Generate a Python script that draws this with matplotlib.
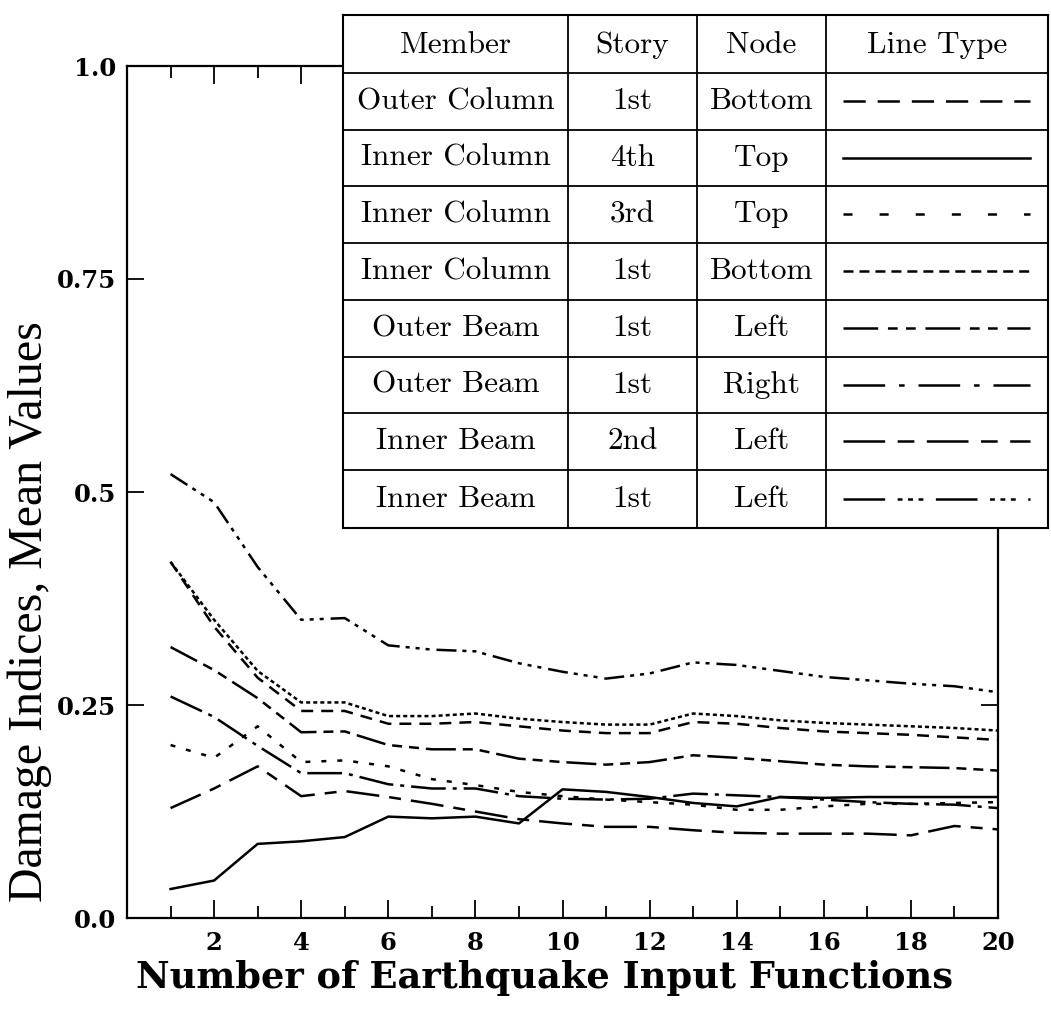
import matplotlib
matplotlib.use("Agg")
import matplotlib.pyplot as plt

# ---------------- data ----------------
n_inputs = list(range(1, 21))

outer_col_1st_bottom = [0.418, 0.342, 0.282, 0.243, 0.243, 0.228, 0.228, 0.230, 0.225, 0.220,
                        0.217, 0.217, 0.230, 0.228, 0.223, 0.219, 0.217, 0.215, 0.212, 0.209]
inner_col_4th_top = [0.034, 0.044, 0.087, 0.090, 0.095, 0.119, 0.117, 0.119, 0.111, 0.151,
                     0.148, 0.142, 0.135, 0.131, 0.142, 0.141, 0.142, 0.142, 0.142, 0.142]
inner_col_3rd_top = [0.203, 0.188, 0.225, 0.183, 0.185, 0.178, 0.163, 0.156, 0.148, 0.143,
                     0.139, 0.136, 0.133, 0.127, 0.127, 0.131, 0.134, 0.134, 0.135, 0.136]
inner_col_1st_bottom = [0.418, 0.350, 0.290, 0.253, 0.253, 0.237, 0.237, 0.240, 0.234, 0.230,
                        0.227, 0.227, 0.240, 0.237, 0.232, 0.229, 0.227, 0.225, 0.223, 0.220]
outer_beam_1st_left = [0.318, 0.291, 0.258, 0.218, 0.219, 0.203, 0.198, 0.198, 0.187, 0.183,
                       0.180, 0.183, 0.191, 0.188, 0.184, 0.180, 0.178, 0.177, 0.176, 0.173]
outer_beam_1st_right = [0.260, 0.236, 0.202, 0.170, 0.170, 0.157, 0.152, 0.152, 0.143, 0.140,
                        0.139, 0.140, 0.146, 0.144, 0.142, 0.139, 0.136, 0.134, 0.133, 0.129]
inner_beam_2nd_left = [0.129, 0.152, 0.178, 0.143, 0.149, 0.142, 0.134, 0.125, 0.116, 0.111,
                       0.107, 0.107, 0.103, 0.100, 0.099, 0.099, 0.099, 0.097, 0.108, 0.104]
inner_beam_1st_left = [0.521, 0.488, 0.412, 0.350, 0.352, 0.320, 0.315, 0.313, 0.299, 0.289,
                       0.281, 0.287, 0.300, 0.297, 0.290, 0.283, 0.279, 0.275, 0.272, 0.265]

members = ["Outer Column", "Inner Column", "Inner Column", "Inner Column",
           "Outer Beam", "Outer Beam", "Inner Beam", "Inner Beam"]
stories = ["1st", "4th", "3rd", "1st", "1st", "1st", "2nd", "1st"]
nodes = ["Bottom", "Top", "Top", "Bottom", "Left", "Right", "Left", "Left"]
headers = ["Member", "Story", "Node", "Line Type"]

x_ticks = [2, 4, 6, 8, 10, 12, 14, 16, 18, 20]
x_tick_labels = ["2", "4", "6", "8", "10", "12", "14", "16", "18", "20"]
x_minor_ticks = [1, 3, 5, 7, 9, 11, 13, 15, 17, 19]
y_ticks = [0.0, 0.25, 0.5, 0.75, 1.0]
y_tick_labels = ["0.0", "0.25", "0.5", "0.75", "1.0"]

x_label = "Number of Earthquake Input Functions"
y_label = "Damage Indices, Mean Values"

series = [outer_col_1st_bottom, inner_col_4th_top, inner_col_3rd_top, inner_col_1st_bottom,
          outer_beam_1st_left, outer_beam_1st_right, inner_beam_2nd_left, inner_beam_1st_left]

# ---------------- styles ----------------
plot_dashes = [
    (8.6, 5.8),
    None,
    (3.6, 7.9),
    (2.9, 2.2),
    (21.6, 5.0, 7.2, 5.0, 7.2, 5.0),
    (25.0, 5.0, 2.9, 5.0),
    (23.8, 7.2, 8.6, 7.2),
    (14.4, 4.3, 2.9, 4.3, 2.9, 4.3, 2.9, 5.0),
]
legend_dashes = [
    (16.0, 8.6),
    None,
    (6.5, 19.5),
    (7.2, 4.3),
    (25.0, 7.0, 7.0, 6.0, 7.0, 7.0),
    (30.0, 10.0, 4.0, 10.0),
    (30.0, 9.0, 12.0, 9.0),
    (30.0, 9.0, 3.5, 4.0, 3.5, 4.0, 3.5, 9.0),
]

plt.rcParams['lines.scale_dashes'] = False

fig = plt.figure(figsize=(10.51, 10.21), dpi=100)
ax = fig.add_axes([127 / 1051, 1 - 918 / 1021, 871 / 1051, 852 / 1021])

for vals, d in zip(series, plot_dashes):
    ls = '-' if d is None else (0, d)
    ax.plot(n_inputs, vals, color='black', lw=1.8, linestyle=ls)

tick_font = dict(fontfamily='DejaVu Serif', fontweight='bold', fontsize=17.5)
ax.set_xlim(0, 20)
ax.set_ylim(0, 1)
ax.set_xticks(x_ticks)
ax.set_xticklabels(x_tick_labels, **tick_font)
ax.set_xticks(x_minor_ticks, minor=True)
ax.set_yticks(y_ticks)
ax.set_yticklabels(y_tick_labels, **tick_font)
ax.tick_params(which='both', direction='in', top=True, right=True, width=1.3)
ax.tick_params(axis='x', which='major', length=13, pad=9)
ax.tick_params(axis='x', which='minor', length=8.5)
ax.tick_params(axis='y', which='major', length=12, pad=8)
for sp in ax.spines.values():
    sp.set_linewidth(1.6)

ax.set_xlabel(x_label, fontfamily='DejaVu Serif', fontweight='bold', fontsize=26.5)
ax.xaxis.set_label_coords((545 - 127) / 871, -(960 - 918) / 852)
ax.set_ylabel(y_label, fontfamily='Liberation Serif', fontsize=34.5, va='center', ha='center')
ax.yaxis.set_label_coords((30 - 127) / 871, (918 - 612) / 852)

# ---------------- table legend ----------------
tax = fig.add_axes([343 / 1051, 1 - 528 / 1021, 705 / 1051, 513 / 1021])
tax.set_xlim(0, 705)
tax.set_ylim(513, 0)
tax.set_xticks([])
tax.set_yticks([])
tax.patch.set_facecolor('white')
for sp in tax.spines.values():
    sp.set_linewidth(1.5)

col_x = [0, 225, 354, 483, 705]
row_y = [0, 58, 115, 171, 228, 285, 342, 398, 455, 513]
tax.vlines(col_x[1:-1], 0, 513, color='black', lw=1.3)
tax.hlines(row_y[1:-1], 0, 705, color='black', lw=1.3)

tf = dict(fontfamily='cmr10', fontsize=22.5, ha='center', va='center')
for j, h in enumerate(headers):
    tax.text((col_x[j] + col_x[j + 1]) / 2, (row_y[0] + row_y[1]) / 2 + 1, h, **tf)
for i in range(len(members)):
    yc = (row_y[i + 1] + row_y[i + 2]) / 2
    tax.text((col_x[0] + col_x[1]) / 2, yc, members[i], **tf)
    tax.text((col_x[1] + col_x[2]) / 2, yc, stories[i], **tf)
    tax.text((col_x[2] + col_x[3]) / 2, yc, nodes[i], **tf)
    d = legend_dashes[i]
    ls = '-' if d is None else (0, d)
    tax.plot([col_x[3] + 17, col_x[4] - 18], [yc, yc], color='black', lw=1.8, linestyle=ls)

fig.savefig("out.png", dpi=100)
